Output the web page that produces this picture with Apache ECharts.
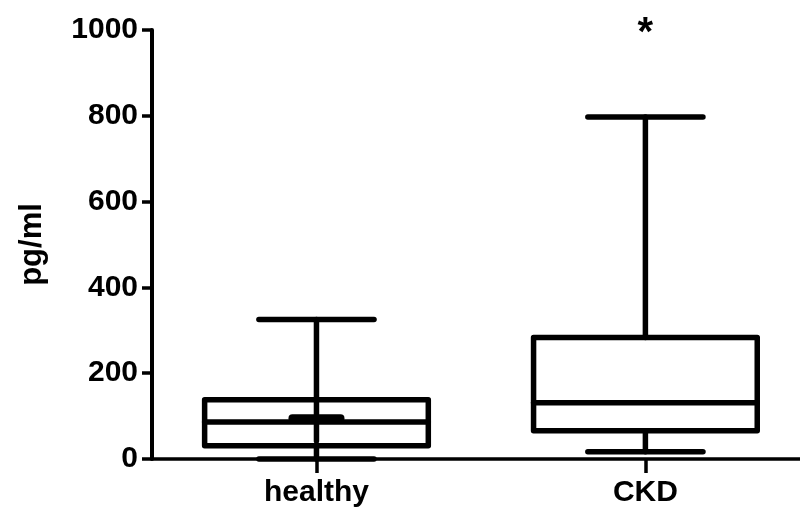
<!DOCTYPE html>
<html>
<head>
<meta charset="utf-8">
<script src="https://cdn.jsdelivr.net/npm/echarts@6/dist/echarts.min.js"></script>
<style>html,body{margin:0;padding:0;background:#fff}#c{width:800px;height:508px}</style>
</head>
<body>
<div id="c"></div>
<script>
const categories = ['healthy', 'CKD'];
const minValues = [0, 17];
const q1Values = [31, 66];
const medianValues = [86, 131];
const q3Values = [138, 283];
const maxValues = [325, 797];
const meanValues = [95, null];
const upperWhiskerEnd = [42, 283];
const significance = ['', '*'];
const yMin = 0, yMax = 1000, yInterval = 200;

const FONT = 'Liberation Sans';
const data = categories.map((c, i) => [i, minValues[i], q1Values[i], medianValues[i], q3Values[i], maxValues[i],
  meanValues[i] == null ? NaN : meanValues[i], upperWhiskerEnd[i]]);

function renderItem(params, api) {
  const i = api.value(0);
  const bw = api.size([1, 0])[0];
  const pt = v => api.coord([i, v]);
  const x = pt(0)[0];
  const half = bw * 0.34, capHalf = bw * 0.175, meanHalf = bw * 0.073;
  const yMinP = pt(api.value(1))[1], yQ1 = pt(api.value(2))[1], yMed = pt(api.value(3))[1],
        yQ3 = pt(api.value(4))[1], yMaxP = pt(api.value(5))[1], yUp = pt(api.value(7))[1];
  const ls = { stroke: '#000', lineWidth: 5.5, lineCap: 'round', lineJoin: 'round', fill: null };
  const line = (x1, y1, x2, y2, w) => ({ type: 'line', shape: { x1, y1, x2, y2 }, style: Object.assign({}, ls, w ? { lineWidth: w } : {}) });
  const children = [
    { type: 'rect', shape: { x: x - half, y: yQ3, width: 2 * half, height: yQ1 - yQ3 }, style: Object.assign({}, ls) },
    line(x - half, yMed, x + half, yMed),
    line(x, yMaxP, x, yUp),
    line(x, yQ1, x, yMinP),
    line(x - capHalf, yMaxP, x + capHalf, yMaxP),
    line(x - capHalf, yMinP, x + capHalf, yMinP)
  ];
  const mean = api.value(6);
  if (!isNaN(mean)) {
    const yMean = pt(mean)[1];
    children.push(line(x - meanHalf, yMean, x + meanHalf, yMean, 8));
  }
  const sig = significance[i];
  if (sig) {
    children.push({ type: 'text', style: { text: sig, x: x, y: pt(yMax)[1] + 4, align: 'center', verticalAlign: 'middle',
      font: 'bold 40px "' + FONT + '"', fill: '#000' } });
  }
  return { type: 'group', children };
}

const catPositions = categories.map((c, i) => i);
const chart = echarts.init(document.getElementById('c'));
chart.setOption({
  animation: false,
  backgroundColor: '#fff',
  grid: { left: 152, right: 0, top: 30, bottom: 48, containLabel: false },
  xAxis: {
    type: 'value', min: -0.5, max: 1.47,
    splitLine: { show: false },
    axisLine: { lineStyle: { color: '#000', width: 3.5 } },
    axisTick: { show: true, customValues: catPositions, length: 14, lineStyle: { color: '#000', width: 3.5 } },
    axisLabel: { customValues: catPositions, formatter: v => categories[Math.round(v)] || '',
      color: '#000', fontSize: 30, fontWeight: 'bold', fontFamily: FONT, margin: 19 }
  },
  yAxis: {
    type: 'value', min: yMin, max: yMax, interval: yInterval,
    name: 'pg/ml', nameLocation: 'middle', nameRotate: 90, nameGap: 104,
    nameTextStyle: { color: '#000', fontSize: 31, fontWeight: 'bold', fontFamily: FONT },
    axisLine: { show: true, onZero: false, lineStyle: { color: '#000', width: 4 } },
    axisTick: { show: true, length: 10, lineStyle: { color: '#000', width: 3.5 } },
    splitLine: { show: false },
    axisLabel: { color: '#000', fontSize: 30, fontWeight: 'bold', fontFamily: FONT, margin: 14,
      formatter: v => String(v) }
  },
  series: [{
    type: 'custom', renderItem, data, clip: false,
    encode: { x: 0, y: [1, 2, 3, 4, 5] }
  }]
});
</script>
</body>
</html>
